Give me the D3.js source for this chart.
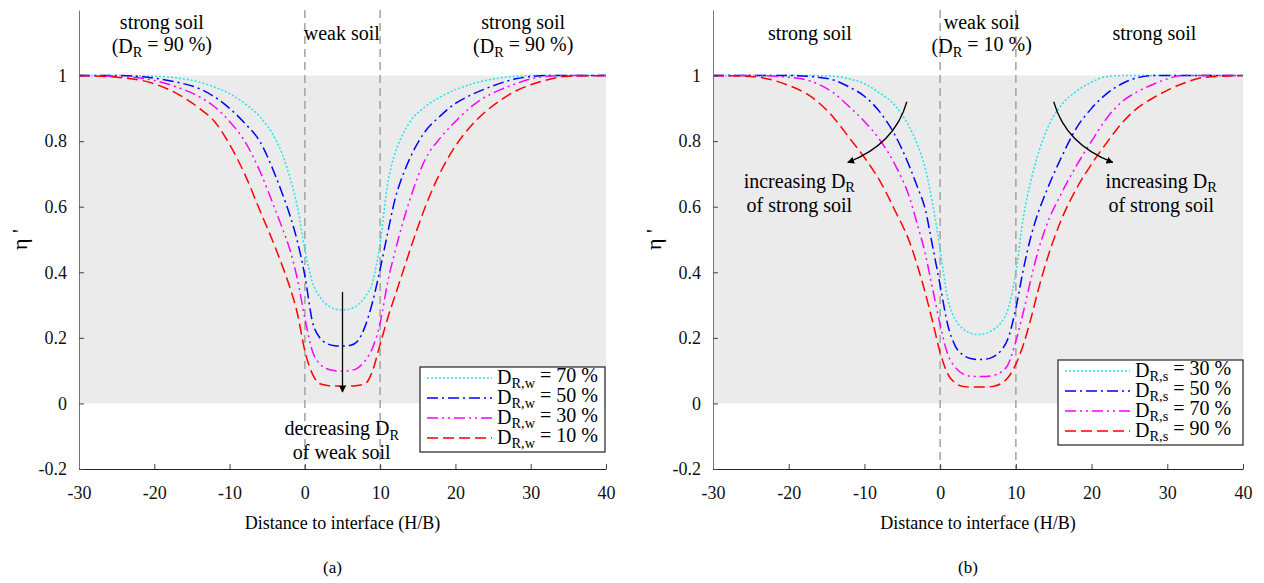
<!DOCTYPE html>
<meta charset="utf-8">
<head>
	<title>eta prime vs distance to interface</title>
</head>
<style>
	body { margin: 0; background: #fff; }
</style>
<body>
<div id="wrapper"></div>
<script src="https://d3js.org/d3.v7.min.js"></script>
<script>

// distance to interface (H/B), shared grid for every curve
var distance = [-30,-25,-20,-17,-14,-12,-10,-8,-6,-4,-3,-2,-1,0,1,2,3,4,5,6,7,8,9,10,11,12,13,14,16,18,20,22,24,26,28,30,32,35,40];

// (a) strong soil DR = 90 %, weak soil varies
var etaW70 = [1,1,0.998,0.993,0.98,0.965,0.945,0.915,0.875,0.81,0.76,0.69,0.6,0.47,0.37,0.325,0.3,0.288,0.285,0.288,0.3,0.325,0.37,0.49,0.67,0.765,0.82,0.86,0.905,0.935,0.957,0.973,0.985,0.993,0.998,1,1,1,1];
var etaW50 = [1,1,0.992,0.98,0.96,0.935,0.9,0.855,0.8,0.7,0.64,0.575,0.495,0.39,0.25,0.2,0.182,0.176,0.175,0.177,0.19,0.235,0.31,0.41,0.52,0.625,0.695,0.75,0.83,0.877,0.915,0.94,0.96,0.977,0.99,0.997,1,1,1];
var etaW30 = [1,0.998,0.985,0.965,0.935,0.905,0.86,0.8,0.71,0.595,0.535,0.47,0.38,0.26,0.16,0.12,0.105,0.1,0.098,0.1,0.108,0.13,0.17,0.245,0.37,0.465,0.55,0.625,0.745,0.81,0.86,0.903,0.935,0.957,0.975,0.99,0.997,1,1];
var etaW10 = [1,0.995,0.975,0.945,0.9,0.86,0.79,0.7,0.59,0.48,0.42,0.355,0.275,0.16,0.09,0.06,0.055,0.053,0.053,0.053,0.055,0.06,0.1,0.18,0.26,0.33,0.4,0.47,0.6,0.705,0.785,0.845,0.89,0.925,0.953,0.972,0.986,0.998,1];

// (b) weak soil DR = 10 %, strong soil varies
var etaS30 = [1,1,1,1,0.998,0.99,0.975,0.947,0.91,0.84,0.79,0.72,0.61,0.47,0.32,0.256,0.228,0.214,0.21,0.213,0.225,0.245,0.29,0.4,0.57,0.68,0.765,0.83,0.91,0.952,0.98,0.997,1,1,1,1,1,1,1];
var etaS50 = [1,1,1,0.997,0.986,0.965,0.937,0.89,0.82,0.72,0.66,0.595,0.48,0.36,0.24,0.175,0.148,0.137,0.134,0.135,0.142,0.16,0.2,0.29,0.41,0.51,0.585,0.645,0.75,0.84,0.9,0.945,0.975,0.993,1,1,1,1,1];
var etaS70 = [1,1,0.995,0.982,0.946,0.905,0.86,0.805,0.73,0.625,0.545,0.46,0.35,0.24,0.15,0.11,0.09,0.083,0.082,0.082,0.085,0.095,0.12,0.19,0.28,0.38,0.47,0.54,0.64,0.725,0.8,0.87,0.92,0.95,0.972,0.99,1,1,1];
var etaS90 = [1,0.997,0.97,0.935,0.87,0.81,0.75,0.68,0.59,0.49,0.42,0.34,0.25,0.155,0.09,0.062,0.052,0.05,0.05,0.05,0.052,0.06,0.08,0.12,0.18,0.26,0.35,0.43,0.56,0.655,0.73,0.795,0.855,0.9,0.93,0.955,0.975,0.995,1];

var legendA = ["70", "50", "30", "10"];
var legendB = ["30", "50", "70", "90"];
var xTicks = [-30,-20,-10,0,10,20,30,40];
var yTicks = [-0.2,0,0.2,0.4,0.6,0.8,1];

var colors = ["#1ee6e6", "#0000ff", "#ff00ff", "#ff0000"];
var dashes = ["2,2", "11,4,2,4", "11,4,2,4,2,4", "11,5"];
var serif = "'Liberation Serif', 'Times New Roman', serif";

var svg = d3.select("#wrapper").append("svg")
	.attr("width", 1264)
	.attr("height", 583)
	.attr("font-family", serif);

svg.append("defs").append("marker")
	.attr("id", "arrow")
	.attr("viewBox", "0 0 10 10")
	.attr("refX", 9).attr("refY", 5)
	.attr("markerWidth", 7).attr("markerHeight", 7)
	.attr("markerUnits", "userSpaceOnUse")
	.attr("orient", "auto")
	.append("path")
	.attr("d", "M0,0 L10,5 L0,10 z")
	.attr("fill", "#000");

function sub(sel, main, subs, rest) {
	sel.append("tspan").text(main);
	sel.append("tspan").attr("font-size", "0.72em").attr("dy", "0.3em").text(subs);
	sel.append("tspan").attr("dy", "-0.3em").text(rest);
}

function fmt(d) { return d3.format("~g")(d).replace("\u2212", "-"); }

function drawPanel(p) {
	var x = d3.scaleLinear().domain([-30, 40]).range([p.left, p.right]);
	var y = d3.scaleLinear().domain([-0.2, 1.2]).range([469, 10]);
	var g = svg.append("g");

	// shaded band 0..1
	g.append("rect")
		.attr("x", x(-30)).attr("y", y(1))
		.attr("width", x(40) - x(-30)).attr("height", y(0) - y(1))
		.attr("fill", "#ebebeb");

	// interface lines
	g.selectAll(".iface").data([0, 10]).enter().append("line")
		.attr("x1", function(d) { return x(d); }).attr("x2", function(d) { return x(d); })
		.attr("y1", y(1.2)).attr("y2", y(-0.2))
		.attr("stroke", "#a8a8a8").attr("stroke-width", 1.6)
		.attr("stroke-dasharray", "8,5");

	var line = d3.line()
		.x(function(d) { return x(d[0]); })
		.y(function(d) { return y(d[1]); })
		.curve(d3.curveMonotoneX);

	p.series.forEach(function(s, i) {
		g.append("path")
			.datum(distance.map(function(d, j) { return [d, s[j]]; }))
			.attr("d", line)
			.attr("fill", "none")
			.attr("stroke", colors[i])
			.attr("stroke-width", 1.5)
			.attr("stroke-dasharray", dashes[i]);
	});

	// axes
	var xa = g.append("g").attr("transform", "translate(0," + y(-0.2) + ")")
		.call(d3.axisBottom(x).tickValues(xTicks).tickSizeInner(-5).tickSizeOuter(0).tickPadding(17).tickFormat(fmt));
	var ya = g.append("g").attr("transform", "translate(" + x(-30) + ",0)")
		.call(d3.axisLeft(y).tickValues(yTicks).tickSizeInner(-5).tickSizeOuter(0).tickPadding(12).tickFormat(fmt));
	[xa, ya].forEach(function(a) {
		a.attr("font-family", serif).attr("font-size", 18);
		a.selectAll(".tick text").attr("fill", "#111");
		a.selectAll(".tick line").attr("stroke", "#444");
	});
	xa.select(".domain").attr("stroke", "#222");
	ya.select(".domain").attr("stroke", "#777");

	g.append("text")
		.attr("x", (x(-30) + x(40)) / 2).attr("y", 529)
		.attr("text-anchor", "middle").attr("font-size", 18)
		.text("Distance to interface (H/B)");
	g.append("text")
		.attr("x", (x(-30) + x(40)) / 2 - 10).attr("y", 573)
		.attr("text-anchor", "middle").attr("font-size", 17)
		.text(p.tag);
	g.append("text")
		.attr("transform", "translate(" + (x(-30) - 52) + "," + y(0.5) + ") rotate(-90)")
		.attr("text-anchor", "middle").attr("font-size", 22)
		.text("η '");

	// region labels
	p.labels.forEach(function(l) {
		var t = g.append("text")
			.attr("x", x(l.x)).attr("y", l.y)
			.attr("text-anchor", "middle").attr("font-size", 20);
		if (l.dr) sub(t, "(D", "R", " = " + l.dr + " %)");
		else t.text(l.text);
	});

	// legend
	var lg = g.append("g");
	lg.append("rect")
		.attr("x", p.legX).attr("y", p.legY)
		.attr("width", 185).attr("height", 85)
		.attr("fill", "#fff").attr("stroke", "#222").attr("stroke-width", 1.2);
	p.legend.forEach(function(v, i) {
		var yy = p.legY + 11 + i * 20;
		lg.append("line")
			.attr("x1", p.legX + 7).attr("x2", p.legX + 72)
			.attr("y1", yy).attr("y2", yy)
			.attr("stroke", colors[i]).attr("stroke-width", 1.6)
			.attr("stroke-dasharray", dashes[i]);
		var t = lg.append("text")
			.attr("x", p.legX + 77).attr("y", yy + 6)
			.attr("font-size", 20);
		sub(t, "D", p.legSub, " = " + v + " %");
	});

	// arrows + notes
	p.arrows.forEach(function(a) {
		g.append("path")
			.attr("d", "M" + x(a[0]) + "," + y(a[1]) + " Q" + x(a[2]) + "," + y(a[3]) + " " + x(a[4]) + "," + y(a[5]))
			.attr("fill", "none").attr("stroke", "#000").attr("stroke-width", 1.3)
			.attr("marker-end", "url(#arrow)");
	});
	p.notes.forEach(function(n) {
		var t1 = g.append("text")
			.attr("x", x(n.x)).attr("y", y(n.y))
			.attr("text-anchor", "middle").attr("font-size", 20);
		sub(t1, n.verb + " D", "R", "");
		g.append("text")
			.attr("x", x(n.x)).attr("y", y(n.y) + 24)
			.attr("text-anchor", "middle").attr("font-size", 20)
			.text(n.of);
	});
}

drawPanel({
	left: 79, right: 606, tag: "(a)",
	series: [etaW70, etaW50, etaW30, etaW10],
	legend: legendA, legSub: "R,w", legX: 420, legY: 367,
	labels: [
		{x: -19, y: 29, text: "strong soil"}, {x: -19, y: 53, dr: "90"},
		{x: 4.9, y: 40, text: "weak soil"},
		{x: 29, y: 29, text: "strong soil"}, {x: 29, y: 53, dr: "90"}
	],
	arrows: [[5, 0.34, 5, 0.2, 5, 0.035]],
	notes: [{x: 4.9, y: -0.097, verb: "decreasing", of: "of weak soil"}]
});

drawPanel({
	left: 713, right: 1243, tag: "(b)",
	series: [etaS30, etaS50, etaS70, etaS90],
	legend: legendB, legSub: "R,s", legX: 1058, legY: 360,
	labels: [
		{x: -17.2, y: 40, text: "strong soil"},
		{x: 5.5, y: 29, text: "weak soil"}, {x: 5.5, y: 53, dr: "10"},
		{x: 28.3, y: 40, text: "strong soil"}
	],
	arrows: [[-4.4, 0.92, -6, 0.79, -12.2, 0.735], [15.0, 0.92, 16.6, 0.79, 22.8, 0.735]],
	notes: [{x: -18.6, y: 0.657, verb: "increasing", of: "of strong soil"},
		{x: 29.2, y: 0.657, verb: "increasing", of: "of strong soil"}]
});

</script>
</body>
</html>
